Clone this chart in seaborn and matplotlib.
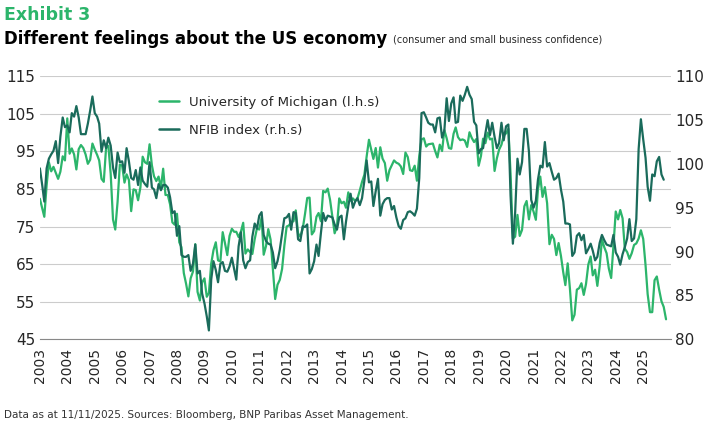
import numpy as np
import pandas as pd
import matplotlib
matplotlib.use("Agg")
import matplotlib.pyplot as plt
import seaborn as sns

umich = [
82.4,79.9,77.6,86.0,92.1,89.7,90.9,89.3,87.7,89.6,93.7,92.6,
103.8,94.4,95.8,94.2,90.2,95.6,96.7,95.9,94.2,91.7,92.8,97.1,
95.5,94.1,92.6,87.7,86.9,96.0,96.5,89.1,76.9,74.2,81.6,91.5,
91.2,86.7,88.9,87.4,79.1,84.9,84.7,82.0,85.4,93.6,92.1,91.7,
96.9,91.3,88.4,87.1,88.3,85.3,90.4,83.4,83.4,80.9,76.1,75.5,
78.4,70.8,69.5,62.6,59.8,56.4,61.2,63.0,70.3,57.6,55.3,60.1,
61.2,56.3,57.3,65.1,68.7,70.8,66.0,65.7,73.5,70.6,67.4,72.5,
74.4,73.6,73.6,72.2,73.6,76.0,67.8,68.9,68.2,67.7,71.6,74.5,
74.2,77.5,67.5,69.8,74.3,71.5,63.7,55.7,59.5,60.8,63.7,69.9,
75.0,75.3,76.2,76.4,79.3,73.2,72.3,74.3,78.3,82.6,82.7,72.9,
73.8,77.6,78.6,76.4,84.5,84.1,85.1,82.1,77.5,73.2,75.1,82.5,
81.2,81.6,80.0,84.1,81.9,82.5,81.8,82.5,84.6,86.9,88.8,93.6,
98.1,95.4,93.0,95.9,90.7,96.1,93.1,91.9,87.2,90.0,91.3,92.6,
92.0,91.7,91.0,89.0,94.7,93.5,90.0,89.8,91.2,87.2,93.8,98.2,
98.5,96.3,96.9,97.0,97.1,95.1,93.4,96.8,95.1,100.7,98.5,95.9,
95.7,99.7,101.4,98.8,98.0,98.2,97.9,96.2,100.1,98.6,97.5,98.3,
91.2,93.8,98.4,97.2,100.0,98.2,98.4,89.8,93.2,95.5,96.8,99.3,
99.8,101.0,89.1,71.8,72.3,78.1,72.5,74.1,80.4,81.8,76.9,80.7,
79.0,76.8,84.9,88.3,82.9,85.5,81.2,70.3,72.8,71.7,67.4,70.6,
67.2,62.8,59.4,65.2,58.4,50.0,51.5,58.2,58.6,59.9,56.8,59.7,
64.9,67.0,62.0,63.5,59.2,64.4,71.6,69.5,67.9,63.8,61.3,69.7,
79.0,76.9,79.4,77.2,69.1,68.2,66.4,67.9,70.1,70.5,71.8,74.0,
71.7,64.7,57.0,52.2,52.2,60.7,61.7,58.2,55.1,53.6,50.3]

nfib = [
99.5,97.6,95.7,99.5,100.6,101.1,101.5,102.6,100.1,103.1,105.3,104.2,
104.4,103.6,105.8,105.4,106.6,105.3,103.4,103.4,103.4,104.6,106.1,107.7,
105.8,105.4,104.6,101.4,102.7,101.8,103.0,102.1,99.6,98.4,101.3,100.2,
100.3,99.0,101.8,100.3,98.4,98.2,99.3,97.6,99.6,98.1,97.7,97.4,
100.2,97.3,97.1,96.1,97.7,97.0,97.6,97.6,97.3,96.2,94.4,94.6,
91.8,92.9,89.6,89.4,89.4,89.6,87.8,88.6,90.8,87.5,87.8,85.2,
84.1,82.6,81.0,86.8,88.9,87.9,86.5,88.6,88.8,87.8,87.7,88.3,
89.3,88.0,86.8,90.6,92.2,89.0,88.1,88.8,89.0,91.7,93.2,92.6,
94.1,94.5,91.9,91.2,90.9,90.8,89.9,88.1,88.9,90.2,92.0,93.8,
93.9,94.3,92.5,94.5,94.4,91.4,91.2,92.9,92.8,93.1,87.5,88.0,
88.9,90.8,89.5,92.1,94.4,93.5,94.1,94.0,93.9,93.1,92.5,93.9,
94.1,91.4,93.4,95.2,96.6,95.0,95.7,96.1,95.3,96.1,98.1,100.4,
97.9,98.0,95.2,96.9,98.3,94.1,95.4,95.9,96.1,96.1,94.8,95.2,
93.9,92.9,92.6,93.6,93.8,94.5,94.6,94.4,94.1,94.9,98.4,105.8,
105.9,105.3,104.7,104.5,104.5,103.6,105.2,105.3,103.0,103.8,107.5,104.9,
106.9,107.6,104.7,104.8,107.8,107.2,107.9,108.8,107.9,107.4,104.8,104.4,
101.2,101.7,101.8,103.5,105.0,103.3,104.7,103.1,101.8,102.4,104.7,102.7,
104.3,104.5,96.4,90.9,94.4,100.6,98.8,100.2,104.0,104.0,101.4,95.9,
95.0,95.8,98.2,99.8,99.6,102.5,99.7,100.1,99.1,98.2,98.4,98.9,
97.1,95.7,93.2,93.2,93.1,89.5,89.9,91.8,92.1,91.3,91.9,89.8,
90.3,90.9,90.1,89.0,89.4,91.0,91.9,91.3,90.8,90.7,90.6,91.9,
89.9,89.4,88.5,89.7,90.5,91.5,93.7,91.2,91.5,93.7,101.7,105.1,
102.8,100.7,97.4,95.8,98.8,98.6,100.3,100.8,98.8,98.2]

years = list(range(2003, 2026))
d_u = pd.DataFrame({"date": pd.date_range("2003-01-01", periods=len(umich), freq="MS"), "v": umich})
d_n = pd.DataFrame({"date": pd.date_range("2003-01-01", periods=len(nfib), freq="MS"), "v": nfib})

GREEN = "#2cb56b"
DARK = "#1a6b5b"

sns.set_style("white")
fig = plt.figure(figsize=(7.25, 4.24), dpi=100)
ax = fig.add_axes([0.055, 0.2, 0.87, 0.62])
ax2 = ax.twinx()

sns.lineplot(data=d_u, x="date", y="v", ax=ax, color=GREEN, lw=1.6, legend=False)
sns.lineplot(data=d_n, x="date", y="v", ax=ax2, color=DARK, lw=1.6, legend=False)

ax.set_ylim(45, 115); ax.set_yticks(range(45, 116, 10))
ax2.set_ylim(80, 110); ax2.set_yticks(range(80, 111, 5))
ax.set_xlim(pd.Timestamp("2003-01-01"), pd.Timestamp("2026-01-01"))
ax.set_xticks([pd.Timestamp(f"{y}-01-01") for y in years])
ax.set_xticklabels([str(y) for y in years], rotation=90, fontsize=10)
ax.grid(axis="y", color="#cccccc", lw=0.8)
ax.set_axisbelow(True)
for a in (ax, ax2):
    a.set_xlabel(""); a.set_ylabel("")
    for s in a.spines.values():
        s.set_visible(False)
    a.tick_params(axis="y", labelsize=11, length=0)
ax.spines["bottom"].set_visible(True)
ax.spines["bottom"].set_color("#888888")
ax.tick_params(axis="x", length=3, color="#888888")

from matplotlib.lines import Line2D
h = [Line2D([], [], color=GREEN, lw=1.8), Line2D([], [], color=DARK, lw=1.8)]
ax.legend(h, ["University of Michigan (l.h.s)", "NFIB index (r.h.s)"], loc="upper left",
          bbox_to_anchor=(0.17, 0.97), frameon=False, fontsize=9.5, labelspacing=1.1, handlelength=1.5)

fig.text(0.005, 0.985, "Exhibit 3", color=GREEN, fontsize=12.5, fontweight="bold", va="top")
t = fig.text(0.005, 0.93, "Different feelings about the US economy", color="black", fontsize=12,
             fontweight="bold", va="top")
fig.canvas.draw()
bb = t.get_window_extent().transformed(fig.transFigure.inverted())
fig.text(bb.x1 + 0.008, bb.y0 + 0.008, "(consumer and small business confidence)", fontsize=7, va="bottom")
fig.text(0.005, 0.015, "Data as at 11/11/2025. Sources: Bloomberg, BNP Paribas Asset Management.", fontsize=7.5, color="#333333")
fig.savefig("out.png", dpi=100)
